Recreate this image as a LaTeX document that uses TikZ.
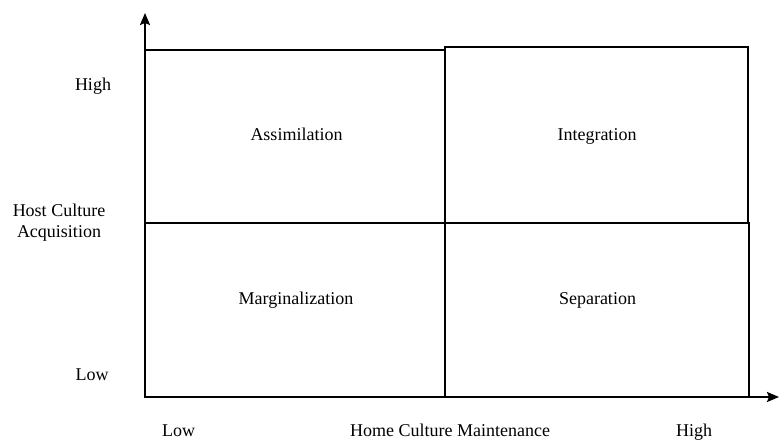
\documentclass[tikz,border=0pt]{standalone}
\usepackage{fontspec}
\setmainfont{Liberation Serif}
\usepackage{tikz}
\usetikzlibrary{positioning}
\usetikzlibrary{arrows.meta}

\begin{document}
\begin{tikzpicture}[x=1pt,y=1pt,
		quad/.style={shape=rectangle, draw=black, line width=1.9pt, inner sep=0pt},
		lbl/.style={font=\fontsize{18}{21}\selectfont, inner sep=0pt, align=center, anchor=base},
]
\useasboundingbox (0,0) rectangle (779,441);

\node[quad,minimum width=300,minimum height=173] (assim) at (295,304.5) {};
\node[quad,minimum width=303,minimum height=176] (integ) at (596.5,306) {};
\node[quad,minimum width=300,minimum height=174] (marg) at (295,131) {};
\node[quad,minimum width=304,minimum height=174] (sep) at (597,131) {};

\node[lbl] (tassim) at (296.5,300) {Assimilation};
\node[lbl] (tinteg) at (597,300) {Integration};
\node[lbl] (tmarg) at (296,136) {Marginalization};
\node[lbl] (tsep) at (597.5,136) {Separation};

\coordinate (o) at (145,44);
\coordinate (ytop) at (145,428);
\coordinate (xend) at (779,44);

\draw [->, >={Stealth[length=12pt,width=10pt,inset=2pt]}, line width=1.9pt] (o) -- (ytop);
\draw [->, >={Stealth[length=12pt,width=10pt,inset=2pt]}, line width=1.9pt] (o) -- (xend);

\node[lbl] (yhigh) at (93,350) {High};
\node[lbl] (ytitle) at (59,203) {Host Culture\\Acquisition};
\node[lbl] (ylow) at (92,60) {Low};

\node[lbl] (xlow) at (178.5,4) {Low};
\node[lbl] (xtitle) at (450,4) {Home Culture Maintenance};
\node[lbl] (xhigh) at (694,4) {High};

\end{tikzpicture}
\end{document}
